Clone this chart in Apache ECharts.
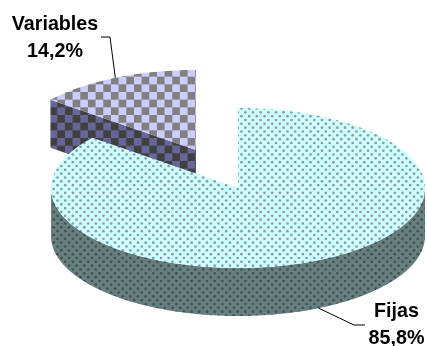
<!DOCTYPE html>
<html><head><meta charset="utf-8">
<style>html,body{margin:0;padding:0;background:#fff}#c{width:427px;height:346px}</style>
<script src="https://cdn.jsdelivr.net/npm/echarts@6/dist/echarts.min.js"></script>
</head><body><div id="c"></div>
<script>
const categories = ['Fijas', 'Variables'];
const shares = [85.8, 14.2];
const shareLabels = ['85,8%', '14,2%'];

const RX = 187, RY = 80, DEPTH = 48;
const layouts = {
  Fijas: { cx: 238, cy: 188, start: 0, label: [396.5, 325.5], elbow: [[354, 325], [365, 325]] },
  Variables: { cx: 196, cy: 150, start: 360 * shares[0] / 100, label: [55, 38], elbow: [[110, 37], [101, 37]] }
};
const P = 23 / 3;
function tile(cells, draw) {
  const c = document.createElement('canvas');
  c.width = c.height = Math.round(cells * P);
  draw(c.getContext('2d'), c.width);
  return { image: c, repeat: 'repeat' };
}
function dots(bg, fg) {
  return tile(3, (g, s) => {
    g.fillStyle = bg; g.fillRect(0, 0, s, s);
    g.fillStyle = fg;
    for (let i = -1; i < 4; i++) for (let j = -1; j < 4; j++) {
      g.beginPath(); g.arc(i * P + 3.83, j * P + 1.17, 1.35, 0, 7); g.fill();
      g.beginPath(); g.arc(i * P + 7.67, j * P + 5, 1.35, 0, 7); g.fill();
    }
  });
}
function checks(a, b) {
  return tile(6, (g, s) => {
    g.fillStyle = a; g.fillRect(0, 0, s, s);
    g.fillStyle = b;
    for (let i = -1; i < 7; i++) for (let j = 0; j < 6; j++) {
      if ((i + j + 2) % 2) g.fillRect(i * P + 3.6, j * P, P, P);
    }
  });
}
const fills = {
  Fijas: { top: dots('#CCFFFF', '#8c9c9c'), side: dots('#668080', '#464e54') },
  Variables: { top: checks('#808080', '#CCCCFF'), side: checks('#404040', '#666699') }
};
function pt(l, deg, dy) {
  const a = deg * Math.PI / 180;
  return [l.cx + RX * Math.sin(a), l.cy - RY * Math.cos(a) + (dy || 0)];
}
function arc(l, from, to, dy) {
  const n = Math.max(2, Math.ceil(Math.abs(to - from) / 1.5)), out = [];
  for (let i = 0; i <= n; i++) out.push(pt(l, from + (to - from) * i / n, dy));
  return out;
}
function renderItem(params, api) {
  const name = categories[params.dataIndex];
  const l = layouts[name];
  const sweep = 360 * api.value(0) / 100;
  const a0 = l.start, a1 = l.start + sweep;
  const z = name === 'Fijas' ? 2 : 1;
  const children = [];
  const w0 = Math.max(a0, 90), w1 = Math.min(a1, 270);
  if (w1 > w0) {
    children.push({ type: 'polygon', z2: z,
      shape: { points: arc(l, w0, w1, 0).concat(arc(l, w1, w0, DEPTH)) },
      style: { fill: fills[name].side } });
  }
  if (name === 'Variables') {
    const rim = pt(l, a0), rimB = pt(l, a0, DEPTH);
    children.push({ type: 'polygon', z2: z,
      shape: { points: [rim, [l.cx, l.cy], [l.cx, l.cy + DEPTH], rimB] },
      style: { fill: fills[name].side } });
  }
  children.push({ type: 'polygon', z2: z + 0.1,
    shape: { points: [[l.cx, l.cy]].concat(arc(l, a0, a1, 0)) },
    style: { fill: fills[name].top } });
  const mid = (a0 + a1) / 2;
  const front = Math.cos(mid * Math.PI / 180) < 0;
  const anchor = pt(l, mid, front ? DEPTH : 0);
  children.push({ type: 'polyline', z2: 5,
    shape: { points: [anchor].concat(l.elbow) },
    style: { fill: 'none', stroke: '#000', lineWidth: 1 } });
  children.push({ type: 'text', z2: 6,
    style: { text: name + '\n' + shareLabels[params.dataIndex],
      x: l.label[0], y: l.label[1], align: 'center', verticalAlign: 'middle',
      font: 'bold 19.7px "Liberation Sans", Arial, sans-serif', lineHeight: 27, fill: '#000' } });
  return { type: 'group', children };
}
const chart = echarts.init(document.getElementById('c'), null, { renderer: 'canvas' });
chart.setOption({
  animation: false,
  backgroundColor: '#fff',
  series: [{ type: 'custom', coordinateSystem: 'none', renderItem,
    silent: true, clip: false,
    data: shares.map((v, i) => ({ name: categories[i], value: [v] })) }]
});
</script></body></html>
